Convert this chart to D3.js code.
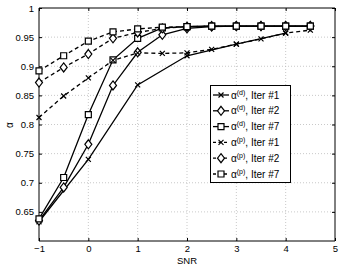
<!DOCTYPE html>
<html><head><meta charset="utf-8">
<script src="https://cdn.jsdelivr.net/npm/d3@7"></script>
<style>body{margin:0;background:#fff}svg{display:block;font-family:"Liberation Sans",Arial,sans-serif}</style>
</head><body><div id="chart"></div>
<script>
const snrHalf = [-1,-0.5,0,0.5,1,1.5,2,2.5,3,3.5,4,4.5];
const snrInt = [-1,0,1,2,3,4];
const d1 = [0.633,0.740,0.868,0.918,0.938,0.957];
const d2 = [0.635,0.692,0.766,0.867,0.924,0.954,0.965,0.968,0.969,0.969,0.969,0.969];
const d7 = [0.638,0.709,0.817,0.911,0.948,0.966,0.968,0.969,0.969,0.969,0.969,0.969];
const p1 = [0.812,0.849,0.880,0.910,0.923,0.922,0.923,0.929,0.938,0.947,0.957,0.962];
const p2 = [0.872,0.898,0.921,0.948,0.958,0.965,0.968,0.969,0.969,0.969,0.969,0.969];
const p7 = [0.892,0.918,0.943,0.959,0.964,0.967,0.968,0.969,0.969,0.969,0.969,0.969];
const xTicks = [-1,0,1,2,3,4,5];
const yTicks = [0.65,0.7,0.75,0.8,0.85,0.9,0.95,1];
const legendLabels = [["d","Iter #1"],["d","Iter #2"],["d","Iter #7"],["p","Iter #1"],["p","Iter #2"],["p","Iter #7"]];

const W=341,H=267;
const svg=d3.select("#chart").append("svg").attr("width",W).attr("height",H);
const x=d3.scaleLinear().domain([-1,5]).range([39,335]);
const y=d3.scaleLinear().domain([0.6,1]).range([241,8]);

// grid
const g=svg.append("g");
g.selectAll(".gx").data(xTicks.slice(1,-1)).enter().append("line")
 .attr("x1",d=>x(d)).attr("x2",d=>x(d)).attr("y1",y(0.6)).attr("y2",y(1))
 .attr("stroke","#bbb").attr("stroke-width",0.8).attr("stroke-dasharray","1,2");
g.selectAll(".gy").data(yTicks.slice(0,-1)).enter().append("line")
 .attr("y1",d=>y(d)).attr("y2",d=>y(d)).attr("x1",x(-1)).attr("x2",x(5))
 .attr("stroke","#bbb").attr("stroke-width",0.8).attr("stroke-dasharray","1,2");

// axes
const fs="9.5px";
const ax=svg.append("g").attr("transform",`translate(0,${y(0.6)})`)
 .call(d3.axisBottom(x).tickValues(xTicks).tickSize(-3).tickPadding(4.5).tickFormat(d=>d<0?"\u2212"+(-d):d));
const ay=svg.append("g").attr("transform",`translate(${x(-1)},0)`)
 .call(d3.axisLeft(y).tickValues(yTicks).tickSize(-3).tickPadding(5).tickFormat(d=>d===1?"1":d3.format("")(d)));
const axT=svg.append("g").attr("transform",`translate(0,${y(1)})`)
 .call(d3.axisTop(x).tickValues(xTicks).tickSize(-3).tickFormat(""));
const ayR=svg.append("g").attr("transform",`translate(${x(5)},0)`)
 .call(d3.axisRight(y).tickValues(yTicks).tickSize(-3).tickFormat(""));
[ax,ay,axT,ayR].forEach(a=>{a.selectAll("path").attr("stroke","#000").attr("stroke-width",1);
 a.selectAll("line").attr("stroke","#000");
 a.selectAll("text").attr("fill","#000").style("font-size",fs).style("font-family","'Liberation Sans',Arial,sans-serif");});
ax.selectAll("path").attr("d",`M${x(-1)},0H${x(5)}`);
ay.selectAll("path").attr("d",`M0,${y(0.6)}V${y(1)}`);
axT.selectAll("path").attr("d",`M${x(-1)},0H${x(5)}`);
ayR.selectAll("path").attr("d",`M0,${y(0.6)}V${y(1)}`);

svg.append("text").attr("x",x(2)).attr("y",264).attr("text-anchor","middle").style("font-size",fs).text("SNR");
svg.append("text").attr("transform",`translate(13,125) rotate(-90)`).attr("text-anchor","middle").style("font-size","10px").text("\u03b1");

// markers
function marker(sel,type,cx,cy){
  const s=sel.append("path").attr("fill","#fff").attr("stroke","#000").attr("stroke-width",1.2);
  if(type==="x"){s.attr("fill","none").attr("d",`M${cx-2.5},${cy-2.5}L${cx+2.5},${cy+2.5}M${cx-2.5},${cy+2.5}L${cx+2.5},${cy-2.5}`);}
  else if(type==="d"){s.attr("d",`M${cx},${cy-4.5}L${cx+3.5},${cy}L${cx},${cy+4.5}L${cx-3.5},${cy}Z`);}
  else {s.attr("d",`M${cx-3},${cy-3}h6v6h-6Z`);}
}
const series=[
 {xs:snrInt,ys:d1,m:"x",dash:null},
 {xs:snrHalf,ys:d2,m:"d",dash:null},
 {xs:snrHalf,ys:d7,m:"s",dash:null},
 {xs:snrHalf,ys:p1,m:"x",dash:"4,3"},
 {xs:snrHalf,ys:p2,m:"d",dash:"4,3"},
 {xs:snrHalf,ys:p7,m:"s",dash:"4,3"}
];
const line=d3.line().x(d=>x(d[0])).y(d=>y(d[1]));
const plot=svg.append("g");
series.forEach(s=>{
  const pts=s.xs.map((v,i)=>[v,s.ys[i]]);
  plot.append("path").attr("d",line(pts)).attr("fill","none").attr("stroke","#000").attr("stroke-width",1.3)
   .attr("stroke-dasharray",s.dash);
});
series.forEach(s=>{
  s.xs.forEach((v,i)=>marker(plot,s.m,x(v),y(s.ys[i])));
});

// legend
const lg=svg.append("g");
lg.append("rect").attr("x",210.5).attr("y",85.5).attr("width",80).attr("height",97).attr("fill","#fff").attr("stroke","#000").attr("stroke-width",1);
series.forEach((s,i)=>{
  const cy=95+i*15.8;
  lg.append("line").attr("x1",213).attr("x2",229).attr("y1",cy).attr("y2",cy).attr("stroke","#000").attr("stroke-width",1.3).attr("stroke-dasharray",s.dash?"3,2.5":null);
  marker(lg,s.m,221,cy);
  const t=lg.append("text").attr("x",231).attr("y",cy+3.5).style("font-size","10px");
  t.append("tspan").text("\u03b1");
  t.append("tspan").attr("dy",-4).style("font-size","7px").text("("+legendLabels[i][0]+")");
  t.append("tspan").attr("dy",4).text(", "+legendLabels[i][1]);
});
</script></body></html>
